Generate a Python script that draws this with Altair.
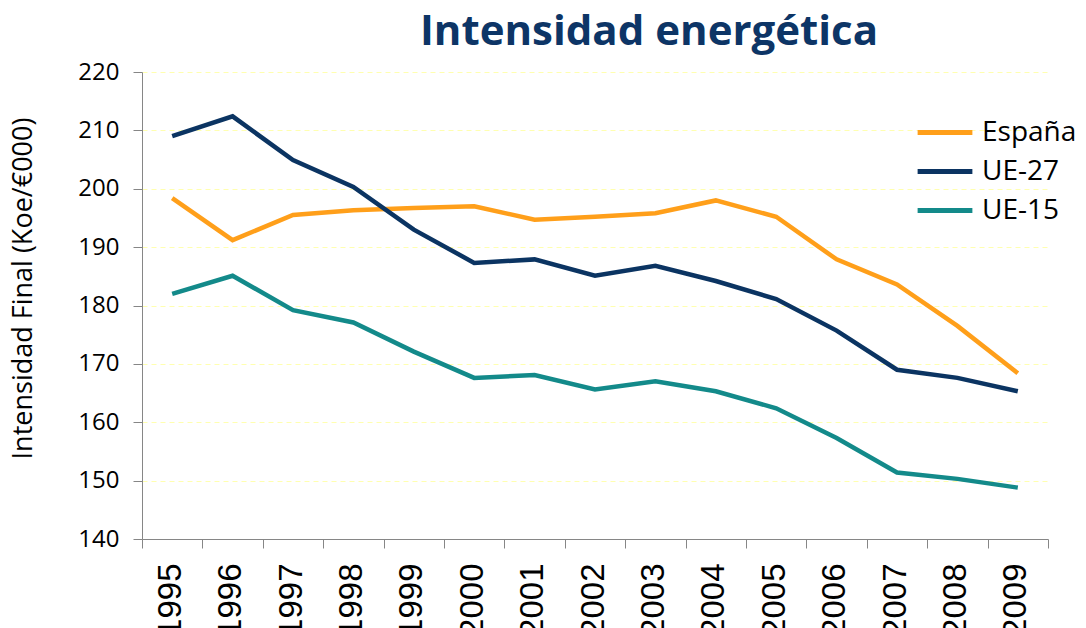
import altair as alt
import pandas as pd

years = [str(y) for y in range(1995, 2010)]
espana = [198.4, 191.2, 195.5, 196.3, 196.7, 197.0, 194.7, 195.2, 195.8, 198.0, 195.2, 187.9, 183.6, 176.5, 168.4]
ue27 = [209.0, 212.4, 204.9, 200.3, 193.0, 187.3, 187.9, 185.1, 186.8, 184.2, 181.1, 175.7, 169.0, 167.6, 165.3]
ue15 = [182.0, 185.1, 179.2, 177.1, 172.1, 167.6, 168.1, 165.6, 167.0, 165.3, 162.4, 157.3, 151.4, 150.3, 148.8]
series = ["España", "UE-27", "UE-15"]
colors = ["#FF9F1A", "#0B3462", "#138A8A"]

rows = []
for name, vals in zip(series, [espana, ue27, ue15]):
    for y, v in zip(years, vals):
        rows.append({"Año": y, "Serie": name, "Valor": v})
df = pd.DataFrame(rows)

chart = alt.Chart(df).mark_line(strokeWidth=4.5, strokeJoin="miter").encode(
    x=alt.X("Año:O", title=None,
            scale=alt.Scale(type="band", paddingInner=0, paddingOuter=0),
            axis=alt.Axis(labelAngle=270, labelAlign="right", labelBaseline="middle",
                          labelFont="Liberation Sans", labelFontSize=33, labelColor="#000000",
                          labelPadding=15, labelOffset=-2, tickBand="extent", tickSize=9,
                          tickColor="#868686", domainColor="#868686", grid=False)),
    y=alt.Y("Valor:Q", title="Intensidad Final (Koe/€000)",
            scale=alt.Scale(domain=[140, 220], nice=False, zero=False),
            axis=alt.Axis(values=list(range(140, 221, 10)), tickSize=9, labelPadding=14,
                          labelFont="Open Sans", labelFontSize=24, labelColor="#000000",
                          titleFont="Open Sans", titleFontSize=27, titleFontWeight="normal",
                          titleColor="#000000", titlePadding=40, titleY=216,
                          tickColor="#868686", domainColor="#868686",
                          grid=True, gridColor="#FFFFB0", gridDash=[5, 4], gridWidth=1)),
    color=alt.Color("Serie:N", scale=alt.Scale(domain=series, range=colors),
                    legend=alt.Legend(title=None, orient="none", legendX=773, legendY=41,
                                      symbolType="stroke", symbolStrokeWidth=5,
                                      symbolSize=3000, labelFont="Open Sans", labelFontSize=28,
                                      labelColor="#000000", labelOffset=7, rowPadding=0,
                                      clipHeight=39)),
).properties(
    width=906, height=467,
    title=alt.TitleParams("Intensidad energética", font="Open Sans", fontSize=42, fontWeight="bold",
                          color="#0D3566", anchor="middle", dx=54, offset=6),
    padding={"left": 134, "top": 64, "right": 30, "bottom": 100},
    autosize=alt.AutoSizeParams(type="none"),
).configure_view(stroke=None)

chart.save("out.html", embed_options={"renderer": "svg", "actions": False})
